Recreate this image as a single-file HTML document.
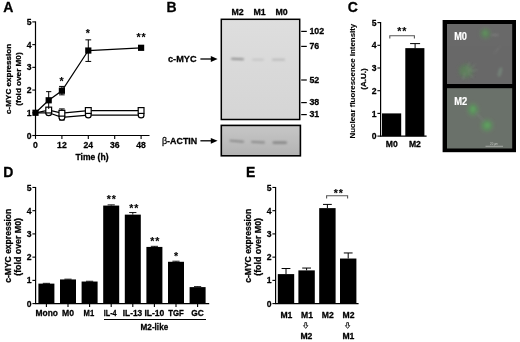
<!DOCTYPE html>
<html lang="en"><head><meta charset="utf-8"><title>c-MYC expression in macrophage polarization</title>
<style>html,body{margin:0;padding:0;background:#fff;}body{width:520px;height:342px;overflow:hidden;}svg{display:block;font-family:"Liberation Sans",Arial,Helvetica,sans-serif;font-weight:bold;}text{stroke:#000;stroke-width:0.28px;stroke-linejoin:round;}text.w{stroke:#fff;stroke-width:0.2px;}text.n{stroke:none;}text.l{stroke-width:0.1px;}text.s{stroke-width:0.12px;letter-spacing:0.9px;}</style>
</head><body>
<svg width="520" height="342" viewBox="0 0 520 342">
<defs>
<filter id="b1" x="-50%" y="-50%" width="200%" height="200%"><feGaussianBlur stdDeviation="0.9"/></filter>
<filter id="b2" x="-50%" y="-50%" width="200%" height="200%"><feGaussianBlur stdDeviation="2.2"/></filter>
<filter id="b3" x="-50%" y="-50%" width="200%" height="200%"><feGaussianBlur stdDeviation="1.3"/></filter>
<filter id="soft" x="-5%" y="-5%" width="110%" height="110%"><feGaussianBlur stdDeviation="0.35"/></filter>
<linearGradient id="blot1" x1="0" y1="0" x2="0" y2="1"><stop offset="0" stop-color="#dedede"/><stop offset="0.5" stop-color="#d9d9d9"/><stop offset="1" stop-color="#d5d5d5"/></linearGradient>
<linearGradient id="blot2" x1="0" y1="0" x2="0" y2="1"><stop offset="0" stop-color="#c6c6c6"/><stop offset="0.6" stop-color="#bbbbbb"/><stop offset="1" stop-color="#b2b2b2"/></linearGradient>
<clipPath id="cm0"><rect x="447" y="24" width="65.2" height="60"/></clipPath>
<clipPath id="cm2"><rect x="447" y="88.2" width="65.2" height="60.3"/></clipPath>
</defs>
<rect x="0" y="0" width="520" height="342" fill="#fff"/>
<g filter="url(#soft)">
<text x="3.3" y="12.4" font-size="14.0" text-anchor="start" fill="#000">A</text>
<text x="166.6" y="12.4" font-size="14.0" text-anchor="start" fill="#000">B</text>
<text x="347.7" y="11.9" font-size="14.0" text-anchor="start" fill="#000">C</text>
<text x="3.2" y="177.4" font-size="14.0" text-anchor="start" fill="#000">D</text>
<text x="246.1" y="177.3" font-size="14.0" text-anchor="start" fill="#000">E</text>
<line x1="35.5" y1="21.400000000000006" x2="35.5" y2="136.0" stroke="#000" stroke-width="1.2"/>
<line x1="32.3" y1="135.5" x2="35.5" y2="135.5" stroke="#000" stroke-width="1.1"/>
<text x="31.499999999999996" y="138.6" font-size="8.6" text-anchor="end" fill="#000">0</text>
<line x1="32.3" y1="112.78" x2="35.5" y2="112.78" stroke="#000" stroke-width="1.1"/>
<text x="31.499999999999996" y="115.88" font-size="8.6" text-anchor="end" fill="#000">1</text>
<line x1="32.3" y1="90.06" x2="35.5" y2="90.06" stroke="#000" stroke-width="1.1"/>
<text x="31.499999999999996" y="93.16" font-size="8.6" text-anchor="end" fill="#000">2</text>
<line x1="32.3" y1="67.34" x2="35.5" y2="67.34" stroke="#000" stroke-width="1.1"/>
<text x="31.499999999999996" y="70.44" font-size="8.6" text-anchor="end" fill="#000">3</text>
<line x1="32.3" y1="44.620000000000005" x2="35.5" y2="44.620000000000005" stroke="#000" stroke-width="1.1"/>
<text x="31.499999999999996" y="47.72" font-size="8.6" text-anchor="end" fill="#000">4</text>
<line x1="32.3" y1="21.900000000000006" x2="35.5" y2="21.900000000000006" stroke="#000" stroke-width="1.1"/>
<text x="31.499999999999996" y="25.0" font-size="8.6" text-anchor="end" fill="#000">5</text>
<line x1="35.0" y1="135.5" x2="149.5" y2="135.5" stroke="#000" stroke-width="1.2"/>
<line x1="35.5" y1="135.5" x2="35.5" y2="138.9" stroke="#000" stroke-width="1.1"/>
<text x="35.5" y="147.5" font-size="8.6" text-anchor="middle" fill="#000">0</text>
<line x1="61.900000000000006" y1="135.5" x2="61.900000000000006" y2="138.9" stroke="#000" stroke-width="1.1"/>
<text x="61.900000000000006" y="147.5" font-size="8.6" text-anchor="middle" fill="#000">12</text>
<line x1="88.30000000000001" y1="135.5" x2="88.30000000000001" y2="138.9" stroke="#000" stroke-width="1.1"/>
<text x="88.30000000000001" y="147.5" font-size="8.6" text-anchor="middle" fill="#000">24</text>
<line x1="114.7" y1="135.5" x2="114.7" y2="138.9" stroke="#000" stroke-width="1.1"/>
<text x="114.7" y="147.5" font-size="8.6" text-anchor="middle" fill="#000">36</text>
<line x1="141.10000000000002" y1="135.5" x2="141.10000000000002" y2="138.9" stroke="#000" stroke-width="1.1"/>
<text x="141.10000000000002" y="147.5" font-size="8.6" text-anchor="middle" fill="#000">48</text>
<text x="92.0" y="160.0" font-size="8.6" text-anchor="middle" fill="#000" textLength="33.0" lengthAdjust="spacingAndGlyphs">Time (h)</text>
<text transform="translate(10.8,78.9) rotate(-90)" font-size="8.1" text-anchor="middle" textLength="70" lengthAdjust="spacingAndGlyphs">c-MYC expression</text>
<text transform="translate(21.3,79.1) rotate(-90)" font-size="8.1" text-anchor="middle" textLength="53.4" lengthAdjust="spacingAndGlyphs">(fold over M0)</text>
<polyline points="35.50,112.78 48.70,112.78 61.90,117.32 88.30,115.05 141.10,115.05" fill="none" stroke="#000" stroke-width="1.25"/>
<line x1="48.7" y1="107.7816" x2="48.7" y2="114.5976" stroke="#000" stroke-width="0.9"/>
<line x1="45.900000000000006" y1="107.7816" x2="51.5" y2="107.7816" stroke="#000" stroke-width="0.9"/>
<line x1="45.900000000000006" y1="114.5976" x2="51.5" y2="114.5976" stroke="#000" stroke-width="0.9"/>
<line x1="61.900000000000006" y1="108.91760000000001" x2="61.900000000000006" y2="120.0504" stroke="#000" stroke-width="1.0"/>
<line x1="59.10000000000001" y1="108.91760000000001" x2="64.7" y2="108.91760000000001" stroke="#000" stroke-width="1.0"/>
<line x1="59.10000000000001" y1="120.0504" x2="64.7" y2="120.0504" stroke="#000" stroke-width="1.0"/>
<circle cx="48.70" cy="112.78" r="2.9" fill="#fff" stroke="#000" stroke-width="1.2"/>
<circle cx="61.90" cy="117.32" r="2.9" fill="#fff" stroke="#000" stroke-width="1.2"/>
<circle cx="88.30" cy="115.05" r="2.9" fill="#fff" stroke="#000" stroke-width="1.2"/>
<circle cx="141.10" cy="115.05" r="2.9" fill="#fff" stroke="#000" stroke-width="1.2"/>
<polyline points="35.50,112.78 48.70,110.05 61.90,113.23 88.30,110.51 141.10,110.51" fill="none" stroke="#000" stroke-width="1.25"/>
<rect x="45.80" y="107.15" width="5.8" height="5.8" fill="#fff" stroke="#000" stroke-width="1.2"/>
<rect x="59.00" y="110.33" width="5.8" height="5.8" fill="#fff" stroke="#000" stroke-width="1.2"/>
<rect x="85.40" y="107.61" width="5.8" height="5.8" fill="#fff" stroke="#000" stroke-width="1.2"/>
<rect x="138.20" y="107.61" width="5.8" height="5.8" fill="#fff" stroke="#000" stroke-width="1.2"/>
<polyline points="35.50,112.78 48.70,100.28 61.90,90.74 88.30,50.53 141.10,47.80" fill="none" stroke="#000" stroke-width="1.25"/>
<line x1="48.7" y1="91.6504" x2="48.7" y2="108.91760000000001" stroke="#000" stroke-width="1.0"/>
<line x1="46.1" y1="91.6504" x2="51.300000000000004" y2="91.6504" stroke="#000" stroke-width="1.0"/>
<line x1="61.900000000000006" y1="86.4248" x2="61.900000000000006" y2="94.8312" stroke="#000" stroke-width="1.0"/>
<line x1="59.10000000000001" y1="86.4248" x2="64.7" y2="86.4248" stroke="#000" stroke-width="1.0"/>
<line x1="59.10000000000001" y1="94.8312" x2="64.7" y2="94.8312" stroke="#000" stroke-width="1.0"/>
<line x1="88.30000000000001" y1="39.84880000000001" x2="88.30000000000001" y2="61.432800000000015" stroke="#000" stroke-width="1.0"/>
<line x1="85.4" y1="39.84880000000001" x2="91.20000000000002" y2="39.84880000000001" stroke="#000" stroke-width="1.0"/>
<line x1="85.4" y1="61.432800000000015" x2="91.20000000000002" y2="61.432800000000015" stroke="#000" stroke-width="1.0"/>
<rect x="32.4" y="109.68" width="6.2" height="6.2" fill="#000"/>
<rect x="45.6" y="97.18" width="6.2" height="6.2" fill="#000"/>
<rect x="58.8" y="87.64" width="6.2" height="6.2" fill="#000"/>
<rect x="85.2" y="47.43" width="6.2" height="6.2" fill="#000"/>
<rect x="138.0" y="44.7" width="6.2" height="6.2" fill="#000"/>
<text x="61.9" y="84.66" font-size="10.6" text-anchor="middle" fill="#000" class="s">*</text>
<text x="88.3" y="36.66" font-size="10.6" text-anchor="middle" fill="#000" class="s">*</text>
<text x="141.55" y="41.46" font-size="10.6" text-anchor="middle" fill="#000" class="s">**</text>
<rect x="221.3" y="19.3" width="78.4" height="100.2" fill="url(#blot1)" stroke="#000" stroke-width="1.5"/>
<rect x="221.3" y="125.4" width="79.1" height="30.4" fill="url(#blot2)" stroke="#000" stroke-width="1.6"/>
<g filter="url(#b1)">
<rect x="231" y="58.0" width="13" height="1.9" rx="0.9" fill="#909090" transform="rotate(3 237 59)"/>
<rect x="252" y="58.8" width="12" height="1.6" rx="0.8" fill="#c2c2c2"/>
<rect x="272" y="58.8" width="13" height="1.8" rx="0.9" fill="#b6b6b6"/>
<rect x="229.5" y="140.2" width="14.5" height="1.9" rx="0.9" fill="#868686" transform="rotate(5 236 141)"/>
<rect x="251" y="141.2" width="14" height="1.9" rx="0.9" fill="#868686" transform="rotate(3 258 142)"/>
<rect x="272.5" y="141.6" width="14.5" height="2.2" rx="1" fill="#808080"/>
</g>
<text x="237.6" y="14.7" font-size="8.8" text-anchor="middle" fill="#000">M2</text>
<text x="259.6" y="14.7" font-size="8.8" text-anchor="middle" fill="#000">M1</text>
<text x="281.6" y="14.7" font-size="8.8" text-anchor="middle" fill="#000">M0</text>
<text x="168" y="61.8" font-size="9" text-anchor="start" fill="#000" textLength="28.6" lengthAdjust="spacingAndGlyphs">c-MYC</text>
<text x="162" y="143.7" font-size="9" text-anchor="start" textLength="35.2" lengthAdjust="spacingAndGlyphs"><tspan font-weight="normal">β</tspan>-ACTIN</text>
<line x1="200.4" y1="59.0" x2="213.6" y2="59.0" stroke="#000" stroke-width="1.3"/>
<path d="M217.6 59.0 L210.79999999999998 56.1 L210.79999999999998 61.9 Z" fill="#000"/>
<line x1="200.4" y1="140.8" x2="213.6" y2="140.8" stroke="#000" stroke-width="1.3"/>
<path d="M217.6 140.8 L210.79999999999998 137.9 L210.79999999999998 143.70000000000002 Z" fill="#000"/>
<line x1="301.2" y1="31.4" x2="306.8" y2="31.4" stroke="#000" stroke-width="1.2"/>
<text x="309.4" y="34.2" font-size="8.8" text-anchor="start" fill="#000">102</text>
<line x1="301.2" y1="46.4" x2="306.8" y2="46.4" stroke="#000" stroke-width="1.2"/>
<text x="309.4" y="49.2" font-size="8.8" text-anchor="start" fill="#000">76</text>
<line x1="301.2" y1="80.0" x2="306.8" y2="80.0" stroke="#000" stroke-width="1.2"/>
<text x="309.4" y="82.8" font-size="8.8" text-anchor="start" fill="#000">52</text>
<line x1="301.2" y1="102.6" x2="306.8" y2="102.6" stroke="#000" stroke-width="1.2"/>
<text x="309.4" y="105.4" font-size="8.8" text-anchor="start" fill="#000">38</text>
<line x1="301.2" y1="114.6" x2="306.8" y2="114.6" stroke="#000" stroke-width="1.2"/>
<text x="309.4" y="117.4" font-size="8.8" text-anchor="start" fill="#000">31</text>
<line x1="380.6" y1="22.099999999999994" x2="380.6" y2="136.6" stroke="#000" stroke-width="1.2"/>
<line x1="377.40000000000003" y1="136.1" x2="380.6" y2="136.1" stroke="#000" stroke-width="1.1"/>
<text x="376.6" y="139.2" font-size="8.6" text-anchor="end" fill="#000">0</text>
<line x1="377.40000000000003" y1="113.39999999999999" x2="380.6" y2="113.39999999999999" stroke="#000" stroke-width="1.1"/>
<text x="376.6" y="116.5" font-size="8.6" text-anchor="end" fill="#000">1</text>
<line x1="377.40000000000003" y1="90.69999999999999" x2="380.6" y2="90.69999999999999" stroke="#000" stroke-width="1.1"/>
<text x="376.6" y="93.8" font-size="8.6" text-anchor="end" fill="#000">2</text>
<line x1="377.40000000000003" y1="68.0" x2="380.6" y2="68.0" stroke="#000" stroke-width="1.1"/>
<text x="376.6" y="71.1" font-size="8.6" text-anchor="end" fill="#000">3</text>
<line x1="377.40000000000003" y1="45.3" x2="380.6" y2="45.3" stroke="#000" stroke-width="1.1"/>
<text x="376.6" y="48.4" font-size="8.6" text-anchor="end" fill="#000">4</text>
<line x1="377.40000000000003" y1="22.599999999999994" x2="380.6" y2="22.599999999999994" stroke="#000" stroke-width="1.1"/>
<text x="376.6" y="25.7" font-size="8.6" text-anchor="end" fill="#000">5</text>
<line x1="380.1" y1="136.1" x2="426.6" y2="136.1" stroke="#000" stroke-width="1.2"/>
<rect x="382" y="113.4" width="19.2" height="22.7" fill="#000"/>
<rect x="405.3" y="48.14" width="19.1" height="87.96" fill="#000"/>
<line x1="415.1" y1="43.6" x2="415.1" y2="48.5" stroke="#000" stroke-width="1.0"/>
<line x1="410.1" y1="43.6" x2="420.1" y2="43.6" stroke="#000" stroke-width="1.0"/>
<path d="M389.8 38.6 V35.7 H414.4 V38.6" fill="none" stroke="#555" stroke-width="1.1"/>
<text x="402.25" y="35.26" font-size="10.6" text-anchor="middle" fill="#000" class="s">**</text>
<text x="391.8" y="147.4" font-size="8.6" text-anchor="middle" fill="#000">M0</text>
<text x="414.9" y="147.4" font-size="8.6" text-anchor="middle" fill="#000">M2</text>
<text class="l" transform="translate(354.7,81.1) rotate(-90)" font-size="8.0" text-anchor="middle" textLength="114.7" lengthAdjust="spacingAndGlyphs">Nuclear fluorescence intensity</text>
<text transform="translate(365.5,79.1) rotate(-90)" font-size="8.0" text-anchor="middle" textLength="21.4" lengthAdjust="spacingAndGlyphs">(A.U.)</text>
<rect x="442.6" y="20.0" width="73.4" height="132.2" fill="#000"/>
<rect x="447" y="24" width="65.2" height="60.0" fill="#686868"/>
<rect x="447" y="88.2" width="65.2" height="60.3" fill="#6b716a"/>
<g clip-path="url(#cm0)">
<rect x="447" y="24" width="65.2" height="22" fill="#6b6b6b" opacity="0.6"/>
<ellipse cx="485.5" cy="33.5" rx="4.8" ry="5.0" fill="#5b8c59" filter="url(#b2)" opacity="0.8"/>
<ellipse cx="485" cy="33" rx="1.8" ry="2.2" fill="#62995e" filter="url(#b3)" opacity="0.5"/>
<ellipse cx="495" cy="35" rx="4" ry="1.2" fill="#7c7c7c" filter="url(#b3)" opacity="0.8"/>
<ellipse cx="466" cy="71" rx="6.8" ry="6.4" fill="#5c8559" filter="url(#b2)" opacity="0.8"/>
<g stroke="#8a978a" stroke-width="0.7" opacity="0.75" filter="url(#b1)">
<line x1="468" y1="70" x2="476" y2="64"/><line x1="468" y1="71" x2="478" y2="70"/><line x1="467" y1="72" x2="474" y2="78"/><line x1="466" y1="70" x2="470" y2="62"/><line x1="465" y1="72" x2="463" y2="80"/>
</g>
<ellipse cx="500" cy="72" rx="2" ry="5" fill="#76857a" filter="url(#b3)" opacity="0.8" transform="rotate(15 500 72)"/>
<ellipse cx="497" cy="50" rx="5" ry="1" fill="#747474" filter="url(#b3)" opacity="0.7" transform="rotate(-50 497 50)"/>
</g>
<g clip-path="url(#cm2)">
<ellipse cx="473" cy="109.6" rx="4.8" ry="5.6" fill="#5a9c5c" filter="url(#b2)" opacity="0.85"/>
<ellipse cx="473" cy="109" rx="1.8" ry="2.4" fill="#62ab64" filter="url(#b3)" opacity="0.45"/>
<ellipse cx="487" cy="125.4" rx="5.4" ry="5.4" fill="#5a9c5c" filter="url(#b2)" opacity="0.85"/>
<ellipse cx="487.4" cy="125.2" rx="2.2" ry="2.4" fill="#62ab64" filter="url(#b3)" opacity="0.45"/>
<ellipse cx="480" cy="117" rx="7" ry="1" fill="#78807a" filter="url(#b3)" opacity="0.6" transform="rotate(48 480 117)"/>
</g>
<text x="454.2" y="39.9" font-size="10.2" text-anchor="start" fill="#fff" textLength="12.8" lengthAdjust="spacingAndGlyphs" class="w">M0</text>
<text x="454.2" y="104.5" font-size="10.2" text-anchor="start" fill="#fff" textLength="13.0" lengthAdjust="spacingAndGlyphs" class="w">M2</text>
<text class="n" x="494" y="145.0" font-size="2.8" text-anchor="middle" fill="#c4c8c4" font-weight="normal">20 µm</text>
<line x1="485.5" y1="146.3" x2="503" y2="146.3" stroke="#b4b8b4" stroke-width="0.8"/>
<line x1="35.6" y1="186.95000000000002" x2="35.6" y2="304.1" stroke="#000" stroke-width="1.2"/>
<line x1="32.4" y1="303.6" x2="35.6" y2="303.6" stroke="#000" stroke-width="1.1"/>
<text x="31.599999999999998" y="306.7" font-size="8.6" text-anchor="end" fill="#000">0</text>
<line x1="32.4" y1="280.37" x2="35.6" y2="280.37" stroke="#000" stroke-width="1.1"/>
<text x="31.599999999999998" y="283.47" font-size="8.6" text-anchor="end" fill="#000">1</text>
<line x1="32.4" y1="257.14000000000004" x2="35.6" y2="257.14000000000004" stroke="#000" stroke-width="1.1"/>
<text x="31.599999999999998" y="260.24" font-size="8.6" text-anchor="end" fill="#000">2</text>
<line x1="32.4" y1="233.91000000000003" x2="35.6" y2="233.91000000000003" stroke="#000" stroke-width="1.1"/>
<text x="31.599999999999998" y="237.01" font-size="8.6" text-anchor="end" fill="#000">3</text>
<line x1="32.4" y1="210.68" x2="35.6" y2="210.68" stroke="#000" stroke-width="1.1"/>
<text x="31.599999999999998" y="213.78" font-size="8.6" text-anchor="end" fill="#000">4</text>
<line x1="32.4" y1="187.45000000000002" x2="35.6" y2="187.45000000000002" stroke="#000" stroke-width="1.1"/>
<text x="31.599999999999998" y="190.55" font-size="8.6" text-anchor="end" fill="#000">5</text>
<line x1="35.1" y1="303.6" x2="209.2" y2="303.6" stroke="#000" stroke-width="1.2"/>
<rect x="38.4" y="283.62" width="16" height="19.98" fill="#000"/>
<line x1="46.4" y1="283.34" x2="46.4" y2="283.62" stroke="#000" stroke-width="0.9"/>
<line x1="42.8" y1="283.34" x2="50.0" y2="283.34" stroke="#000" stroke-width="0.9"/>
<line x1="46.4" y1="303.6" x2="46.4" y2="307.0" stroke="#000" stroke-width="1.1"/>
<text x="46.8" y="316.2" font-size="8.6" text-anchor="middle" fill="#000" textLength="22.4" lengthAdjust="spacingAndGlyphs">Mono</text>
<rect x="60.0" y="279.44" width="16" height="24.16" fill="#000"/>
<line x1="68.0" y1="279.16" x2="68.0" y2="279.44" stroke="#000" stroke-width="0.9"/>
<line x1="64.4" y1="279.16" x2="71.6" y2="279.16" stroke="#000" stroke-width="0.9"/>
<line x1="68.0" y1="303.6" x2="68.0" y2="307.0" stroke="#000" stroke-width="1.1"/>
<text x="68.0" y="316.2" font-size="8.6" text-anchor="middle" fill="#000" textLength="12" lengthAdjust="spacingAndGlyphs">M0</text>
<rect x="81.6" y="281.53" width="16" height="22.07" fill="#000"/>
<line x1="89.6" y1="281.25" x2="89.6" y2="281.53" stroke="#000" stroke-width="0.9"/>
<line x1="86.0" y1="281.25" x2="93.19999999999999" y2="281.25" stroke="#000" stroke-width="0.9"/>
<line x1="89.6" y1="303.6" x2="89.6" y2="307.0" stroke="#000" stroke-width="1.1"/>
<text x="88.9" y="316.2" font-size="8.6" text-anchor="middle" fill="#000" textLength="10.6" lengthAdjust="spacingAndGlyphs">M1</text>
<rect x="103.2" y="205.57" width="16" height="98.03" fill="#000"/>
<line x1="111.20000000000002" y1="204.87" x2="111.20000000000002" y2="205.57" stroke="#000" stroke-width="0.9"/>
<line x1="107.60000000000002" y1="204.87" x2="114.80000000000001" y2="204.87" stroke="#000" stroke-width="0.9"/>
<line x1="111.20000000000002" y1="303.6" x2="111.20000000000002" y2="307.0" stroke="#000" stroke-width="1.1"/>
<text x="110.2" y="316.2" font-size="8.6" text-anchor="middle" fill="#000" textLength="12.8" lengthAdjust="spacingAndGlyphs">IL-4</text>
<text x="111.85" y="202.66" font-size="10.6" text-anchor="middle" fill="#000" class="s">**</text>
<rect x="124.8" y="214.63" width="16" height="88.97" fill="#000"/>
<line x1="132.8" y1="212.54" x2="132.8" y2="214.63" stroke="#000" stroke-width="0.9"/>
<line x1="129.20000000000002" y1="212.54" x2="136.4" y2="212.54" stroke="#000" stroke-width="0.9"/>
<line x1="132.8" y1="303.6" x2="132.8" y2="307.0" stroke="#000" stroke-width="1.1"/>
<text x="132.5" y="316.2" font-size="8.6" text-anchor="middle" fill="#000" textLength="19.4" lengthAdjust="spacingAndGlyphs">IL-13</text>
<text x="134.35" y="211.66" font-size="10.6" text-anchor="middle" fill="#000" class="s">**</text>
<rect x="146.4" y="246.92" width="16" height="56.68" fill="#000"/>
<line x1="154.4" y1="246.34" x2="154.4" y2="246.92" stroke="#000" stroke-width="0.9"/>
<line x1="150.8" y1="246.34" x2="158.0" y2="246.34" stroke="#000" stroke-width="0.9"/>
<line x1="154.4" y1="303.6" x2="154.4" y2="307.0" stroke="#000" stroke-width="1.1"/>
<text x="154.4" y="316.2" font-size="8.6" text-anchor="middle" fill="#000" textLength="20" lengthAdjust="spacingAndGlyphs">IL-10</text>
<text x="155.35" y="245.16" font-size="10.6" text-anchor="middle" fill="#000" class="s">**</text>
<rect x="168.0" y="261.79" width="16" height="41.81" fill="#000"/>
<line x1="176.00000000000003" y1="261.21" x2="176.00000000000003" y2="261.79" stroke="#000" stroke-width="0.9"/>
<line x1="172.40000000000003" y1="261.21" x2="179.60000000000002" y2="261.21" stroke="#000" stroke-width="0.9"/>
<line x1="176.00000000000003" y1="303.6" x2="176.00000000000003" y2="307.0" stroke="#000" stroke-width="1.1"/>
<text x="176.0" y="316.2" font-size="8.6" text-anchor="middle" fill="#000" textLength="15.6" lengthAdjust="spacingAndGlyphs">TGF</text>
<text x="176.6" y="260.16" font-size="10.6" text-anchor="middle" fill="#000" class="s">*</text>
<rect x="189.6" y="287.11" width="16" height="16.49" fill="#000"/>
<line x1="197.60000000000002" y1="286.64" x2="197.60000000000002" y2="287.11" stroke="#000" stroke-width="0.9"/>
<line x1="194.00000000000003" y1="286.64" x2="201.20000000000002" y2="286.64" stroke="#000" stroke-width="0.9"/>
<line x1="197.60000000000002" y1="303.6" x2="197.60000000000002" y2="307.0" stroke="#000" stroke-width="1.1"/>
<text x="197.6" y="316.2" font-size="8.6" text-anchor="middle" fill="#000" textLength="12.6" lengthAdjust="spacingAndGlyphs">GC</text>
<line x1="104" y1="319.5" x2="206" y2="319.5" stroke="#000" stroke-width="1.1"/>
<text x="154.4" y="330.4" font-size="8.6" text-anchor="middle" fill="#000" textLength="27.6" lengthAdjust="spacingAndGlyphs">M2-like</text>
<text transform="translate(10.8,245.8) rotate(-90)" font-size="8.4" text-anchor="middle" textLength="74.0" lengthAdjust="spacingAndGlyphs">c-MYC expression</text>
<text transform="translate(21.4,246.9) rotate(-90)" font-size="8.4" text-anchor="middle" textLength="57.8" lengthAdjust="spacingAndGlyphs">(fold over M0)</text>
<line x1="275.6" y1="186.95000000000002" x2="275.6" y2="304.1" stroke="#000" stroke-width="1.2"/>
<line x1="272.40000000000003" y1="303.6" x2="275.6" y2="303.6" stroke="#000" stroke-width="1.1"/>
<text x="271.6" y="306.7" font-size="8.6" text-anchor="end" fill="#000">0</text>
<line x1="272.40000000000003" y1="280.37" x2="275.6" y2="280.37" stroke="#000" stroke-width="1.1"/>
<text x="271.6" y="283.47" font-size="8.6" text-anchor="end" fill="#000">1</text>
<line x1="272.40000000000003" y1="257.14000000000004" x2="275.6" y2="257.14000000000004" stroke="#000" stroke-width="1.1"/>
<text x="271.6" y="260.24" font-size="8.6" text-anchor="end" fill="#000">2</text>
<line x1="272.40000000000003" y1="233.91000000000003" x2="275.6" y2="233.91000000000003" stroke="#000" stroke-width="1.1"/>
<text x="271.6" y="237.01" font-size="8.6" text-anchor="end" fill="#000">3</text>
<line x1="272.40000000000003" y1="210.68" x2="275.6" y2="210.68" stroke="#000" stroke-width="1.1"/>
<text x="271.6" y="213.78" font-size="8.6" text-anchor="end" fill="#000">4</text>
<line x1="272.40000000000003" y1="187.45000000000002" x2="275.6" y2="187.45000000000002" stroke="#000" stroke-width="1.1"/>
<text x="271.6" y="190.55" font-size="8.6" text-anchor="end" fill="#000">5</text>
<line x1="275.1" y1="303.6" x2="358.6" y2="303.6" stroke="#000" stroke-width="1.2"/>
<rect x="277.8" y="274.1" width="16.4" height="29.5" fill="#000"/>
<line x1="286.0" y1="268.52" x2="286.0" y2="274.1" stroke="#000" stroke-width="1.0"/>
<line x1="281.6" y1="268.52" x2="290.4" y2="268.52" stroke="#000" stroke-width="1.0"/>
<rect x="298.4" y="270.38" width="16.4" height="33.22" fill="#000"/>
<line x1="306.6" y1="268.06" x2="306.6" y2="270.38" stroke="#000" stroke-width="1.0"/>
<line x1="302.20000000000005" y1="268.06" x2="311.0" y2="268.06" stroke="#000" stroke-width="1.0"/>
<rect x="319.2" y="208.12" width="16.4" height="95.48" fill="#000"/>
<line x1="327.4" y1="204.41" x2="327.4" y2="208.12" stroke="#000" stroke-width="1.0"/>
<line x1="323.0" y1="204.41" x2="331.79999999999995" y2="204.41" stroke="#000" stroke-width="1.0"/>
<rect x="340.0" y="258.53" width="16.4" height="45.07" fill="#000"/>
<line x1="348.2" y1="252.96" x2="348.2" y2="258.53" stroke="#000" stroke-width="1.0"/>
<line x1="343.8" y1="252.96" x2="352.59999999999997" y2="252.96" stroke="#000" stroke-width="1.0"/>
<path d="M326.6 198.6 V195.7 H347.6 V198.6" fill="none" stroke="#555" stroke-width="1.1"/>
<text x="338.65" y="196.56" font-size="10.6" text-anchor="middle" fill="#000" class="s">**</text>
<text x="286.4" y="318.2" font-size="8.6" text-anchor="middle" fill="#000">M1</text>
<text x="307.0" y="318.2" font-size="8.6" text-anchor="middle" fill="#000">M1</text>
<text x="327.8" y="318.2" font-size="8.6" text-anchor="middle" fill="#000">M2</text>
<text x="348.6" y="318.2" font-size="8.6" text-anchor="middle" fill="#000">M2</text>
<text x="306.4" y="338.6" font-size="8.6" text-anchor="middle" fill="#000">M2</text>
<text x="348.4" y="338.6" font-size="8.6" text-anchor="middle" fill="#000">M1</text>
<path d="M304.8 322.6 H306.59999999999997 V325.6 H307.9 L305.7 328.4 L303.5 325.6 H304.8 Z" fill="#fff" stroke="#000" stroke-width="0.8"/>
<path d="M346.70000000000005 322.6 H348.5 V325.6 H349.8 L347.6 328.4 L345.40000000000003 325.6 H346.70000000000005 Z" fill="#fff" stroke="#000" stroke-width="0.8"/>
<text transform="translate(250.8,245.8) rotate(-90)" font-size="8.4" text-anchor="middle" textLength="74.0" lengthAdjust="spacingAndGlyphs">c-MYC expression</text>
<text transform="translate(261.4,246.9) rotate(-90)" font-size="8.4" text-anchor="middle" textLength="57.8" lengthAdjust="spacingAndGlyphs">(fold over M0)</text>
</g>
</svg>
</body></html>
